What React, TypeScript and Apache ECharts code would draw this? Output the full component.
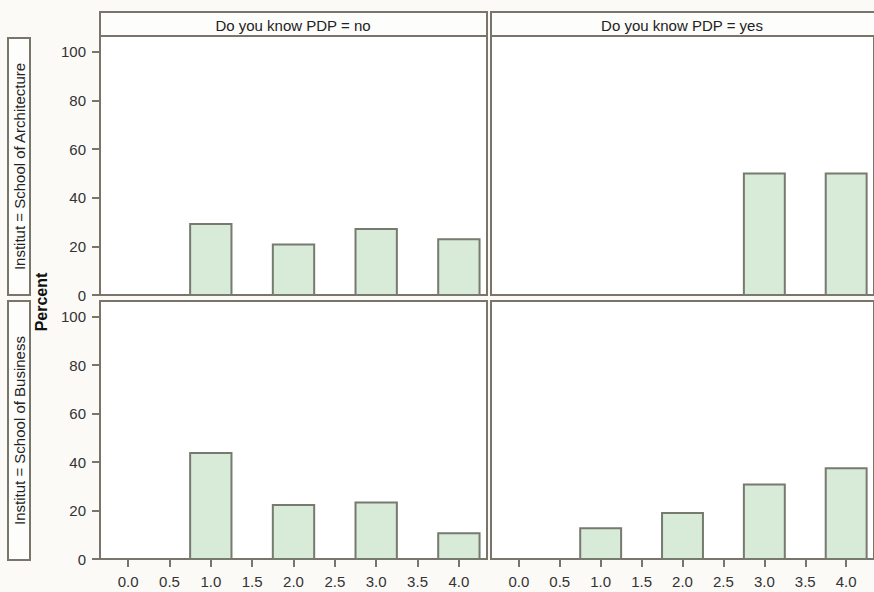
import React, { useEffect, useRef } from "react";
import * as echarts from "echarts";

const xValues = [1.0, 2.0, 3.0, 4.0];
const archNo = [29.2, 20.8, 27.1, 22.9];
const archYes = [0, 0, 50, 50];
const busNo = [43.8, 22.3, 23.3, 10.6];
const busYes = [12.7, 19.0, 30.8, 37.5];
const xTickValues = [0, 0.5, 1, 1.5, 2, 2.5, 3, 3.5, 4];
const yTickValues = [0, 20, 40, 60, 80, 100];
const colLabels = ["Do you know PDP = no", "Do you know PDP = yes"];
const rowLabels = ["Institut = School of Architecture", "Institut = School of Business"];

const BORDER = "#79756a";
const FONT = "Liberation Sans";

export default function App() {
  const ref = useRef<HTMLDivElement>(null);
  useEffect(() => {
    document.body.style.margin = "0";
    const chart = echarts.init(ref.current!, null, { renderer: "svg" });
    const panels = [
      { data: archNo, left: 100, top: 36, height: 259, row: 0, col: 0 },
      { data: archYes, left: 491, top: 36, height: 259, row: 0, col: 1 },
      { data: busNo, left: 100, top: 301, height: 258, row: 1, col: 0 },
      { data: busYes, left: 491, top: 301, height: 258, row: 1, col: 1 },
    ];
    const grids = panels.map((p) => ({
      left: p.left,
      top: p.top,
      width: 387,
      height: p.height,
      show: true,
      backgroundColor: "#ffffff",
      borderColor: BORDER,
      borderWidth: 2,
    }));
    const xAxes = panels.map((p, i) => ({
      type: "value",
      gridIndex: i,
      min: -0.34,
      max: 4.34,
      splitLine: { show: false },
      axisLine: { show: false, onZero: false },
      axisTick: {
        show: p.row === 1,
        length: 8,
        lineStyle: { color: BORDER, width: 2 },
        customValues: xTickValues,
      },
      axisLabel: {
        show: p.row === 1,
        customValues: xTickValues,
        formatter: (v: number) => v.toFixed(1),
        color: "#333",
        fontSize: 15,
        fontFamily: FONT,
        margin: 15,
      },
    }));
    const yAxes = panels.map((p, i) => ({
      type: "value",
      gridIndex: i,
      min: 0,
      max: 106.5,
      splitLine: { show: false },
      axisLine: { show: false, onZero: false },
      axisTick: {
        show: p.col === 0,
        length: 8,
        lineStyle: { color: BORDER, width: 2 },
        customValues: yTickValues,
      },
      axisLabel: {
        show: p.col === 0,
        customValues: yTickValues,
        color: "#333",
        fontSize: 15,
        fontFamily: FONT,
        margin: 14,
      },
    }));
    const series = panels.map((p, i) => ({
      type: "custom",
      xAxisIndex: i,
      yAxisIndex: i,
      data: xValues.map((x, j) => [x, p.data[j]]).filter((d) => d[1] > 0),
      renderItem: (params: any, api: any) => {
        const x = api.value(0);
        const y = api.value(1);
        const p0 = api.coord([x - 0.25, 0]);
        const p1 = api.coord([x + 0.25, y]);
        return {
          type: "rect",
          shape: { x: p0[0], y: p1[1], width: p1[0] - p0[0], height: p0[1] - p1[1] },
          style: { fill: "#d8ead8", stroke: "#777a6f", lineWidth: 2 },
        };
      },
    }));
    const graphic: any[] = [];
    colLabels.forEach((t, c) => {
      const left = c === 0 ? 100 : 491;
      graphic.push({
        type: "rect",
        shape: { x: left, y: 12, width: 387, height: 24 },
        style: { fill: "#fdfdfb", stroke: BORDER, lineWidth: 2 },
        z: 10,
      });
      graphic.push({
        type: "text",
        x: left + (c === 0 ? 193 : 191),
        y: 25,
        style: {
          text: t,
          fill: "#222",
          font: `15px "${FONT}"`,
          textAlign: "center",
          textVerticalAlign: "middle",
        },
        z: 11,
      });
    });
    rowLabels.forEach((t, r) => {
      const top = r === 0 ? 38 : 301;
      const h = r === 0 ? 257 : 259;
      graphic.push({
        type: "rect",
        shape: { x: 8, y: top, width: 22, height: h },
        style: { fill: "#fdfdfb", stroke: BORDER, lineWidth: 2 },
        z: 10,
      });
      graphic.push({
        type: "text",
        x: 19,
        y: top + h / 2,
        rotation: Math.PI / 2,
        style: {
          text: t,
          fill: "#222",
          font: `15px "${FONT}"`,
          textAlign: "center",
          textVerticalAlign: "middle",
        },
        z: 11,
      });
    });
    graphic.push({
      type: "text",
      x: 41,
      y: 302,
      rotation: Math.PI / 2,
      style: {
        text: "Percent",
        fill: "#111",
        font: `bold 16px "${FONT}"`,
        textAlign: "center",
        textVerticalAlign: "middle",
      },
      z: 11,
    });
    chart.setOption({
      animation: false,
      backgroundColor: "#fbfaf6",
      grid: grids,
      xAxis: xAxes,
      yAxis: yAxes,
      series,
      graphic,
    });
    return () => chart.dispose();
  }, []);
  return <div ref={ref} style={{ width: 874, height: 592 }} />;
}
